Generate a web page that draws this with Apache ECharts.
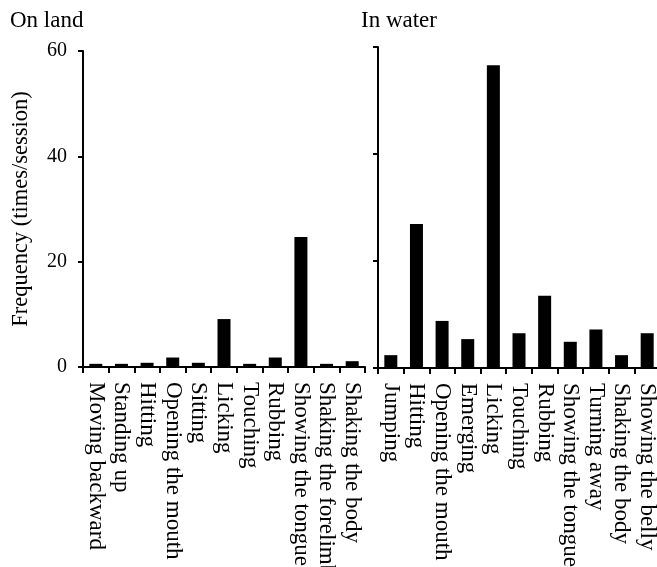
<!DOCTYPE html>
<html>
<head>
<meta charset="utf-8">
<script src="https://cdn.jsdelivr.net/npm/echarts@6/dist/echarts.min.js"></script>
<style>html,body{margin:0;padding:0;background:#fff}#c{width:657px;height:567px}</style>
</head>
<body>
<div id="c"></div>
<script>
const landCategories = ["Moving backward","Standing up","Hitting","Opening the mouth","Sitting","Licking","Touching","Rubbing","Showing the tongue","Shaking the forelimb","Shaking the body"];
const landValues = [0.6, 0.6, 0.8, 1.8, 0.8, 9.1, 0.6, 1.8, 24.7, 0.6, 1.1];
const waterCategories = ["Jumping","Hitting","Opening the mouth","Emerging","Licking","Touching","Rubbing","Showing the tongue","Turning away","Shaking the body","Showing the belly"];
const waterValues = [2.4, 26.9, 8.8, 5.4, 56.6, 6.5, 13.5, 4.9, 7.2, 2.4, 6.5];
const panelTitles = ["On land", "In water"];
const yAxisName = "Frequency (times/session)";

const FONT = "'Liberation Serif', 'Times New Roman', serif";
const chart = echarts.init(document.getElementById('c'));
function xAxis(gi, cats) {
  return {
    type: 'category', gridIndex: gi, data: cats,
    axisLine: {lineStyle: {color: '#000', width: 2}},
    axisTick: {show: true, interval: 0, length: 6, lineStyle: {color: '#000', width: 2}},
    axisLabel: {interval: 0, rotate: -90, margin: 15, color: '#000', fontFamily: FONT, fontSize: 23, hideOverlap: false}
  };
}
function yAxis(gi, showLabel, name) {
  return {
    type: 'value', gridIndex: gi, min: 0, max: 60, interval: 20,
    name: name || '', nameLocation: 'middle', nameRotate: 90, nameGap: 50,
    nameTextStyle: {color: '#000', fontFamily: FONT, fontSize: 22.5},
    axisLine: {show: true, lineStyle: {color: '#000', width: 2}},
    axisTick: {show: true, length: 5, lineStyle: {color: '#000', width: 2}},
    axisLabel: {show: showLabel, color: '#000', fontFamily: FONT, fontSize: 20, margin: 16},
    splitLine: {show: false}
  };
}
chart.setOption({
  animation: false,
  title: [
    {text: panelTitles[0], left: 5, top: 4, textStyle: {color: '#000', fontFamily: FONT, fontSize: 23, fontWeight: 'normal'}},
    {text: panelTitles[1], left: 356, top: 4, textStyle: {color: '#000', fontFamily: FONT, fontSize: 23, fontWeight: 'normal'}}
  ],
  grid: [
    {left: 83, top: 51, width: 282, bottom: 200, containLabel: false, outerBoundsMode: 'none'},
    {left: 378, top: 47, width: 282, bottom: 199, containLabel: false, outerBoundsMode: 'none'}
  ],
  xAxis: [xAxis(0, landCategories), xAxis(1, waterCategories)],
  yAxis: [yAxis(0, true, yAxisName), yAxis(1, false)],
  series: [
    {type: 'bar', xAxisIndex: 0, yAxisIndex: 0, data: landValues, barWidth: 13, itemStyle: {color: '#000'}},
    {type: 'bar', xAxisIndex: 1, yAxisIndex: 1, data: waterValues, barWidth: 13, itemStyle: {color: '#000'}}
  ]
});
</script>
</body>
</html>
